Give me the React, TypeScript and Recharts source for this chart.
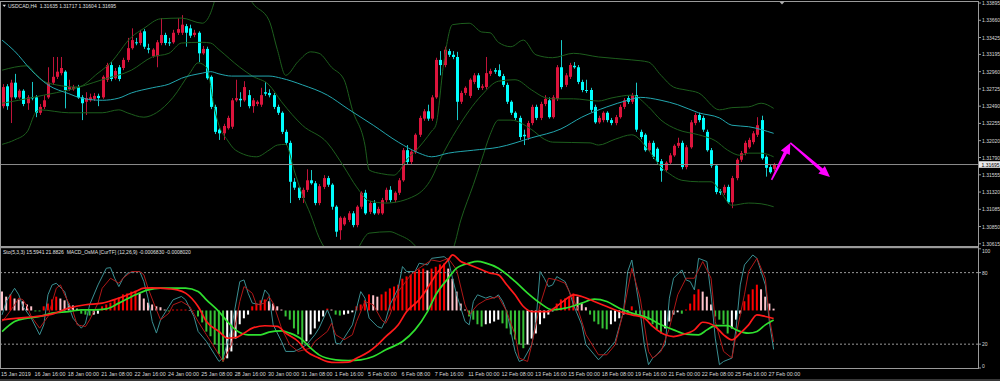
import React from 'react';
import { ComposedChart, Bar, Line, XAxis, YAxis, ReferenceLine, Cell } from 'recharts';

const symbolTitle = 'USDCAD,H4';
const lastOHLC = [1.31635, 1.31717, 1.31604, 1.31695];
const stochLegend = 'Sto(5,3,3) 15.5941 21.8826';
const osmaLegend = 'MACD_OsMA [CurTF] (12,26,9) -0.0006830 -0.0008020';

// [open, high, low, close] per H4 bar
const candles = [
  [1.3249,1.3279,1.3246,1.3275],[1.3276,1.3279,1.3244,1.3249],[1.3261,1.3285,1.3226,1.3281],[1.3281,1.3293,1.3259,1.3261],
  [1.3261,1.3272,1.3259,1.3270],[1.3270,1.3272,1.3249,1.3252],[1.3253,1.3264,1.3244,1.3261],[1.3261,1.3282,1.3257,1.3260],
  [1.3261,1.3264,1.3234,1.3240],[1.3240,1.3252,1.3237,1.3248],[1.3248,1.3264,1.3245,1.3257],[1.3261,1.3302,1.3259,1.3281],
  [1.3281,1.3316,1.3278,1.3289],[1.3289,1.3316,1.3286,1.3296],[1.3294,1.3316,1.3291,1.3301],[1.3296,1.3298,1.3246,1.3271],
  [1.3272,1.3285,1.3270,1.3275],[1.3272,1.3278,1.3270,1.3275],[1.3275,1.3278,1.3259,1.3261],[1.3261,1.3264,1.3230,1.3253],
  [1.3255,1.3268,1.3237,1.3260],[1.3257,1.3266,1.3255,1.3261],[1.3259,1.3267,1.3256,1.3263],[1.3263,1.3266,1.3249,1.3260],
  [1.3261,1.3291,1.3259,1.3289],[1.3285,1.3308,1.3282,1.3305],[1.3305,1.3309,1.3283,1.3286],[1.3287,1.3301,1.3285,1.3297],
  [1.3302,1.3305,1.3283,1.3286],[1.3301,1.3315,1.3298,1.3312],[1.3312,1.3342,1.3309,1.3328],[1.3328,1.3355,1.3326,1.3339],
  [1.3336,1.3342,1.3332,1.3335],[1.3335,1.3353,1.3332,1.3349],[1.3351,1.3354,1.3327,1.3330],[1.3328,1.3334,1.3321,1.3326],
  [1.3317,1.3328,1.3315,1.3326],[1.3317,1.3339,1.3302,1.3336],[1.3335,1.3369,1.3332,1.3346],[1.3346,1.3349,1.3332,1.3335],
  [1.3336,1.3342,1.3331,1.3335],[1.3336,1.3353,1.3334,1.3349],[1.3349,1.3369,1.3346,1.3354],[1.3349,1.3373,1.3346,1.3360],
  [1.3358,1.3361,1.3330,1.3349],[1.3355,1.3360,1.3342,1.3345],[1.3346,1.3353,1.3343,1.3349],[1.3349,1.3351,1.3309,1.3321],
  [1.3321,1.3331,1.3319,1.3327],[1.3327,1.3330,1.3285,1.3287],[1.3289,1.3291,1.3245,1.3248],[1.3248,1.3251,1.3211,1.3214],
  [1.3217,1.3219,1.3203,1.3212],[1.3212,1.3225,1.3203,1.3222],[1.3219,1.3236,1.3217,1.3233],[1.3221,1.3260,1.3218,1.3257],
  [1.3257,1.3285,1.3255,1.3260],[1.3259,1.3268,1.3248,1.3257],[1.3257,1.3283,1.3255,1.3275],[1.3264,1.3271,1.3246,1.3249],
  [1.3249,1.3260,1.3240,1.3257],[1.3252,1.3257,1.3249,1.3255],[1.3251,1.3274,1.3248,1.3264],[1.3268,1.3282,1.3263,1.3266],
  [1.3267,1.3272,1.3261,1.3264],[1.3264,1.3267,1.3245,1.3248],[1.3248,1.3251,1.3237,1.3240],[1.3240,1.3242,1.3211,1.3214],
  [1.3214,1.3217,1.3196,1.3199],[1.3199,1.3202,1.3117,1.3146],[1.3146,1.3151,1.3135,1.3138],[1.3138,1.3140,1.3121,1.3124],
  [1.3124,1.3138,1.3117,1.3135],[1.3135,1.3163,1.3132,1.3148],[1.3148,1.3162,1.3142,1.3144],[1.3144,1.3147,1.3114,1.3117],
  [1.3117,1.3143,1.3114,1.3140],[1.3139,1.3155,1.3136,1.3151],[1.3151,1.3154,1.3139,1.3142],[1.3142,1.3144,1.3108,1.3112],
  [1.3112,1.3114,1.3071,1.3078],[1.3080,1.3099,1.3067,1.3097],[1.3088,1.3099,1.3086,1.3097],[1.3094,1.3106,1.3091,1.3103],
  [1.3103,1.3106,1.3084,1.3087],[1.3087,1.3114,1.3084,1.3112],[1.3112,1.3133,1.3109,1.3131],[1.3131,1.3135,1.3101,1.3103],
  [1.3105,1.3120,1.3102,1.3117],[1.3117,1.3121,1.3101,1.3103],[1.3103,1.3112,1.3101,1.3109],[1.3103,1.3124,1.3101,1.3121],
  [1.3121,1.3138,1.3118,1.3135],[1.3135,1.3140,1.3118,1.3121],[1.3121,1.3133,1.3118,1.3131],[1.3131,1.3151,1.3128,1.3148],
  [1.3148,1.3192,1.3146,1.3189],[1.3189,1.3196,1.3170,1.3173],[1.3173,1.3189,1.3170,1.3187],[1.3187,1.3212,1.3184,1.3210],
  [1.3210,1.3236,1.3207,1.3233],[1.3232,1.3245,1.3229,1.3242],[1.3242,1.3251,1.3229,1.3232],[1.3232,1.3264,1.3229,1.3261],
  [1.3261,1.3315,1.3259,1.3312],[1.3312,1.3324,1.3291,1.3305],[1.3305,1.3330,1.3302,1.3326],[1.3324,1.3327,1.3316,1.3319],
  [1.3319,1.3324,1.3313,1.3316],[1.3316,1.3323,1.3230,1.3255],[1.3255,1.3270,1.3252,1.3267],[1.3267,1.3276,1.3264,1.3274],
  [1.3263,1.3287,1.3260,1.3285],[1.3282,1.3294,1.3279,1.3291],[1.3291,1.3294,1.3271,1.3274],[1.3274,1.3279,1.3271,1.3276],
  [1.3275,1.3316,1.3272,1.3294],[1.3293,1.3300,1.3290,1.3297],[1.3298,1.3301,1.3293,1.3296],[1.3298,1.3306,1.3289,1.3290],
  [1.3290,1.3293,1.3275,1.3278],[1.3278,1.3281,1.3252,1.3255],[1.3255,1.3257,1.3237,1.3240],[1.3240,1.3242,1.3230,1.3233],
  [1.3233,1.3236,1.3203,1.3207],[1.3210,1.3217,1.3196,1.3208],[1.3206,1.3229,1.3203,1.3226],[1.3226,1.3251,1.3223,1.3248],
  [1.3248,1.3251,1.3230,1.3233],[1.3233,1.3255,1.3230,1.3252],[1.3252,1.3264,1.3249,1.3259],[1.3257,1.3261,1.3232,1.3234],
  [1.3234,1.3264,1.3232,1.3261],[1.3259,1.3305,1.3256,1.3302],[1.3302,1.3339,1.3272,1.3275],[1.3278,1.3294,1.3275,1.3291],
  [1.3289,1.3308,1.3286,1.3305],[1.3304,1.3309,1.3300,1.3302],[1.3302,1.3305,1.3279,1.3282],[1.3282,1.3285,1.3268,1.3271],
  [1.3271,1.3285,1.3267,1.3270],[1.3271,1.3274,1.3241,1.3244],[1.3248,1.3251,1.3225,1.3227],[1.3227,1.3236,1.3225,1.3233],
  [1.3230,1.3242,1.3227,1.3240],[1.3240,1.3242,1.3227,1.3230],[1.3230,1.3233,1.3223,1.3226],[1.3226,1.3237,1.3223,1.3234],
  [1.3234,1.3251,1.3232,1.3248],[1.3248,1.3260,1.3245,1.3257],[1.3260,1.3263,1.3252,1.3255],[1.3255,1.3267,1.3252,1.3264],
  [1.3264,1.3281,1.3214,1.3217],[1.3214,1.3217,1.3204,1.3207],[1.3210,1.3212,1.3187,1.3189],[1.3189,1.3202,1.3187,1.3199],
  [1.3199,1.3202,1.3177,1.3180],[1.3191,1.3193,1.3170,1.3173],[1.3174,1.3177,1.3146,1.3161],[1.3162,1.3174,1.3159,1.3172],
  [1.3172,1.3185,1.3169,1.3182],[1.3182,1.3197,1.3180,1.3195],[1.3195,1.3206,1.3192,1.3199],[1.3199,1.3202,1.3163,1.3166],
  [1.3166,1.3196,1.3163,1.3193],[1.3193,1.3230,1.3191,1.3227],[1.3226,1.3240,1.3223,1.3237],[1.3237,1.3240,1.3227,1.3230],
  [1.3233,1.3236,1.3214,1.3217],[1.3214,1.3217,1.3187,1.3189],[1.3189,1.3192,1.3165,1.3168],[1.3168,1.3170,1.3129,1.3132],
  [1.3133,1.3136,1.3128,1.3131],[1.3131,1.3142,1.3128,1.3139],[1.3139,1.3142,1.3116,1.3118],[1.3118,1.3154,1.3110,1.3151],
  [1.3151,1.3178,1.3148,1.3176],[1.3176,1.3188,1.3173,1.3185],[1.3185,1.3202,1.3182,1.3199],[1.3193,1.3206,1.3191,1.3203],
  [1.3200,1.3215,1.3197,1.3212],[1.3210,1.3234,1.3207,1.3223],[1.3230,1.3236,1.3176,1.3178],[1.3180,1.3182,1.3153,1.3165],
  [1.3166,1.3169,1.3157,1.3159],[1.31635,1.31717,1.31604,1.31695],
];

const dateTickIndex = [0,8,16,24,32,40,48,56,64,72,80,88,96,104,112,120,128,136,144,152,160,168,176,184];
const dateTickLabel = ['15 Jan 2019','16 Jan 16:00','18 Jan 00:00','21 Jan 08:00','22 Jan 16:00','24 Jan 00:00',
  '25 Jan 08:00','28 Jan 16:00','30 Jan 00:00','31 Jan 08:00','1 Feb 16:00','5 Feb 00:00','6 Feb 08:00','7 Feb 16:00',
  '11 Feb 00:00','12 Feb 08:00','13 Feb 16:00','15 Feb 00:00','18 Feb 08:00','19 Feb 16:00','21 Feb 00:00',
  '22 Feb 08:00','25 Feb 16:00','27 Feb 00:00'];

const priceTicks = [1.33895,1.3366,1.33425,1.33195,1.3296,1.32725,1.3249,1.32255,1.3202,1.3179,1.31555,1.3132,1.31085,1.3085,1.30615];
const stochTicks = [0, 20, 80, 100];

// [bar index, value]
const maLine = [[0,1.3339],[3,1.3324],[7,1.3298],[11,1.3278],[16,1.3266],[19,1.3260],[24,1.3257],[28,1.3260],[31,1.3267],
  [36,1.3274],[40,1.3279],[43,1.3287],[48,1.3294],[50,1.3296],[52,1.3293],[55,1.3290],[64,1.3290],[67,1.3287],[72,1.3278],
  [78,1.3264],[83,1.3245],[89,1.3223],[95,1.3200],[100,1.3185],[103,1.3180],[107,1.3185],[113,1.3189],[119,1.3193],
  [127,1.3206],[134,1.3218],[139,1.3234],[145,1.3248],[150,1.3257],[153,1.3261],[158,1.3257],[162,1.3251],[167,1.3240],
  [172,1.3233],[175,1.3223],[179,1.3221],[185,1.3212]];
const upperBand = [[0,1.3298],[6,1.3304],[8,1.3293],[10,1.3283],[13,1.3278],[18,1.3275],[23,1.3294],[26,1.3308],[31,1.3343],
  [34,1.3355],[38,1.3368],[43,1.3369],[48,1.3362],[50,1.3376],[51,1.3394],[52,1.3421],[56,1.3428],[58,1.3410],[60,1.3390],
  [64,1.3366],[66,1.3326],[68,1.3291],[71,1.3310],[74,1.3323],[76,1.3321],[79,1.3302],[82,1.3285],[84,1.3244],[87,1.3196],
  [88,1.3162],[91,1.3157],[94,1.3155],[95,1.3159],[97,1.3176],[99,1.3187],[103,1.3215],[104,1.3223],[106,1.3312],
  [108,1.3360],[112,1.3362],[115,1.3350],[117,1.3349],[119,1.3336],[122,1.3330],[125,1.3339],[128,1.3319],[132,1.3315],
  [137,1.3321],[143,1.3316],[151,1.3312],[155,1.3309],[158,1.3291],[161,1.3275],[164,1.3271],[167,1.3267],[172,1.3244],
  [175,1.3247],[179,1.3248],[182,1.3253],[185,1.3246]];
const middleBand = [[0,1.3253],[4,1.3257],[10,1.3264],[16,1.3271],[24,1.3285],[31,1.3298],[36,1.3316],[40,1.3321],
  [43,1.3335],[48,1.3336],[50,1.3335],[52,1.3326],[57,1.3302],[60,1.3290],[64,1.3278],[67,1.3255],[72,1.3223],[78,1.3199],
  [82,1.3166],[85,1.3139],[88,1.3120],[92,1.3117],[99,1.3127],[103,1.3151],[105,1.3176],[109,1.3217],[115,1.3264],
  [119,1.3283],[123,1.3285],[127,1.3271],[130,1.3261],[132,1.3259],[137,1.3259],[143,1.3256],[146,1.3260],[151,1.3264],
  [155,1.3248],[158,1.3230],[162,1.3217],[167,1.3210],[171,1.3202],[174,1.3189],[177,1.3182],[179,1.3185],[182,1.3185],
  [185,1.3180]];
const lowerBand = [[0,1.3197],[3,1.3203],[6,1.3214],[8,1.3240],[9,1.3244],[16,1.3240],[24,1.3240],[28,1.3244],[30,1.3240],
  [34,1.3234],[37,1.3240],[41,1.3261],[45,1.3294],[47,1.3308],[49,1.3302],[51,1.3244],[52,1.3223],[54,1.3203],[56,1.3189],
  [61,1.3180],[64,1.3189],[66,1.3196],[68,1.3197],[70,1.3162],[72,1.3128],[74,1.3101],[76,1.3070],[79,1.3045],[82,1.3037],
  [85,1.3053],[88,1.3076],[93,1.3078],[95,1.3074],[99,1.3059],[101,1.3042],[105,1.3037],[108,1.3053],[110,1.3094],
  [113,1.3142],[115,1.3176],[117,1.3210],[119,1.3230],[122,1.3230],[127,1.3217],[130,1.3204],[132,1.3200],[141,1.3199],
  [143,1.3196],[147,1.3204],[151,1.3210],[155,1.3189],[158,1.3166],[160,1.3157],[163,1.3148],[167,1.3146],[170,1.3146],
  [172,1.3135],[175,1.3114],[179,1.3117],[182,1.3116],[185,1.3112]];

const stochMain = [[0,44.6],[1,55.8],[3,66.9],[4,61.4],[5,51.6],[7,41.8],[9,27.9],[10,36.2],[11,61.4],[12,69.7],[13,71.1],
  [15,64.1],[16,51.6],[17,41.8],[19,33.4],[20,37.6],[21,53.0],[23,69.7],[25,83.7],[26,84.2],[27,75.3],[28,68.3],[29,75.3],
  [30,79.5],[32,80.9],[33,80.9],[34,72.5],[35,58.6],[36,39.0],[37,29.3],[38,40.4],[40,51.6],[41,57.2],[43,60.0],[44,57.2],
  [46,43.2],[47,30.7],[49,22.3],[51,11.1],[52,5.5],[53,8.3],[54,20.9],[55,33.4],[57,72.5],[58,73.9],[59,62.7],[60,54.4],
  [62,53.0],[63,65.5],[64,61.4],[65,36.2],[67,22.3],[68,13.9],[70,13.9],[71,15.3],[73,19.5],[75,27.9],[76,33.4],[78,48.8],
  [79,40.4],[80,20.9],[81,20.1],[82,25.1],[84,36.2],[85,50.2],[86,64.1],[87,58.6],[88,41.8],[90,34.8],[91,33.4],[92,40.4],
  [93,53.0],[95,66.9],[96,85.1],[97,80.9],[99,80.9],[100,87.9],[102,86.5],[103,92.0],[106,93.4],[107,90.6],[108,75.3],
  [109,61.4],[111,39.0],[112,36.2],[113,55.8],[114,61.4],[116,58.6],[117,60.0],[118,58.6],[119,61.4],[120,56.0],[121,47.4],
  [122,30.7],[123,13.9],[124,5.5],[125,6.9],[127,19.5],[128,39.0],[129,80.9],[130,75.3],[131,68.3],[132,69.7],[133,76.7],
  [135,72.5],[136,64.1],[137,53.0],[139,36.2],[140,19.5],[142,11.1],[143,6.9],[145,13.9],[146,18.1],[147,22.3],[149,47.4],
  [150,80.9],[151,90.6],[153,47.4],[154,19.5],[155,2.8],[156,8.3],[157,11.1],[159,19.5],[160,58.6],[161,75.3],[163,82.3],
  [164,73.9],[165,72.5],[166,65.5],[167,92.0],[169,89.3],[170,61.4],[171,25.1],[172,2.8],[173,5.5],[175,8.3],[176,33.4],
  [177,69.7],[178,86.5],[180,94.8],[181,92.0],[183,69.7],[184,38.0],[185,15.5941]];
const stochSignal = [[0,39.0],[1,43.2],[3,53.0],[4,58.6],[5,57.2],[6,51.6],[7,43.2],[9,33.4],[11,43.2],[13,66.9],[14,69.7],
  [15,61.4],[17,47.4],[18,36.2],[20,34.8],[21,40.4],[23,54.4],[24,66.9],[26,75.3],[28,71.1],[29,75.3],[31,80.9],[33,80.9],
  [34,78.1],[35,66.9],[37,48.8],[38,40.4],[40,46.0],[41,53.0],[43,55.8],[45,51.6],[47,39.0],[49,27.9],[52,11.1],[53,5.5],
  [55,19.5],[57,55.8],[58,68.3],[60,62.7],[61,53.0],[63,54.4],[64,60.0],[65,54.4],[67,33.4],[69,19.5],[71,13.9],[74,16.7],
  [75,22.3],[78,30.7],[79,37.6],[80,27.9],[82,23.7],[84,27.9],[85,39.0],[87,55.8],[89,53.0],[91,40.4],[92,37.6],[93,44.6],
  [95,64.1],[98,78.1],[100,83.7],[103,90.6],[105,89.3],[107,92.0],[109,82.3],[111,53.0],[112,44.6],[114,53.0],[116,57.2],
  [119,60.0],[121,47.4],[123,27.9],[124,8.3],[126,5.5],[127,19.5],[129,53.0],[131,75.3],[133,73.9],[135,71.1],[136,64.1],
  [138,50.2],[140,27.9],[143,11.1],[145,11.1],[147,19.5],[149,47.4],[151,83.7],[153,58.6],[155,13.9],[156,8.3],[158,13.9],
  [160,33.4],[162,61.4],[164,75.3],[166,75.3],[168,89.3],[170,75.3],[171,39.0],[173,13.9],[175,8.3],[176,27.9],[178,61.4],
  [179,80.9],[181,92.0],[183,75.3],[184,41.8],[185,21.8826]];
const macdMain = [[0,-0.00079],[4,-0.00065],[8,-0.00051],[12,-0.00031],[16,0.00020],[20,0.00049],[24,0.00063],[28,0.00106],
  [32,0.00162],[34,0.00191],[36,0.00193],[40,0.00185],[42,0.00176],[44,0.00148],[47,0.00034],[49,-0.00094],[52,-0.00179],
  [54,-0.00235],[56,-0.00230],[58,-0.00193],[60,-0.00150],[63,-0.00130],[66,-0.00136],[68,-0.00193],[71,-0.00264],
  [73,-0.00349],[76,-0.00406],[78,-0.00435],[80,-0.00443],[83,-0.00440],[85,-0.00406],[88,-0.00349],[90,-0.00292],
  [92,-0.00222],[95,-0.00122],[97,-0.00009],[100,0.00091],[102,0.00191],[104,0.00304],[107,0.00432],[108,0.00475],
  [110,0.00418],[112,0.00390],[115,0.00347],[117,0.00319],[119,0.00304],[121,0.00219],[123,0.00134],[125,0.00034],
  [127,-0.00009],[131,-0.00009],[132,0.00010],[135,0.00091],[137,0.00134],[139,0.00119],[142,0.00077],[145,0.00034],
  [148,-0.00009],[151,-0.00037],[154,-0.00065],[156,-0.00136],[159,-0.00207],[161,-0.00222],[163,-0.00207],[166,-0.00165],
  [168,-0.00100],[171,-0.00136],[173,-0.00207],[175,-0.00250],[177,-0.00193],[179,-0.00122],[181,-0.00037],[183,-0.00051],
  [185,-0.000683]];
const macdSignal = [[0,-0.00179],[3,-0.00094],[6,-0.00065],[9,-0.00051],[12,-0.00022],[16,-0.00009],[19,0.00006],[22,0.00006],
  [25,0.00014],[28,0.00063],[32,0.00134],[35,0.00176],[38,0.00191],[41,0.00191],[44,0.00191],[47,0.00162],[49,0.00091],
  [52,-0.00009],[54,-0.00094],[56,-0.00165],[59,-0.00207],[62,-0.00207],[64,-0.00184],[67,-0.00173],[69,-0.00193],
  [72,-0.00250],[74,-0.00321],[76,-0.00378],[80,-0.00420],[83,-0.00426],[86,-0.00420],[89,-0.00392],[92,-0.00335],
  [96,-0.00264],[99,-0.00165],[102,-0.00009],[104,0.00134],[107,0.00276],[109,0.00361],[112,0.00404],[114,0.00418],
  [116,0.00404],[119,0.00361],[123,0.00248],[126,0.00148],[129,0.00063],[132,0.00006],[135,0.00020],[139,0.00063],
  [142,0.00097],[145,0.00077],[148,0.00020],[151,-0.00022],[155,-0.00065],[158,-0.00122],[161,-0.00165],[164,-0.00201],
  [167,-0.00207],[169,-0.00165],[171,-0.00128],[174,-0.00128],[176,-0.00165],[179,-0.00193],[181,-0.00179],[183,-0.00122],
  [185,-0.000802]];

const osmaBefore = 0.00045;
const osma = [0.00041,0.00030,0.00035,0.00026,0.00024,0.00020,0.00013,0.00009,-0.00002,-0.00002,0.00009,0.00015,0.00024,0.00030,
  0.00026,0.00022,0.00015,0.00011,0.00004,-0.00007,-0.00009,-0.00011,-0.00009,-0.00007,0.00009,0.00013,0.00017,0.00024,0.00028,
  0.00035,0.00037,0.00041,0.00043,0.00037,0.00026,0.00017,0.00013,0.00009,0.00007,0.00002,-0.00002,0.00002,0.00002,0.00002,
  0.00002,0.00001,0.00001,-0.00013,-0.00026,-0.00046,-0.00056,-0.00074,-0.00095,-0.00111,-0.00104,-0.00089,-0.00061,-0.00030,
  -0.00017,-0.00009,0.00009,0.00015,0.00022,0.00024,0.00020,0.00015,0.00009,0.00002,-0.00013,-0.00020,-0.00039,-0.00052,
  -0.00074,-0.00067,-0.00052,-0.00039,-0.00024,-0.00013,0.00004,0.00002,-0.00009,-0.00011,-0.00009,-0.00007,-0.00004,0.00009,
  0.00013,0.00022,0.00035,0.00033,0.00030,0.00035,0.00041,0.00048,0.00052,0.00056,0.00069,0.00074,0.00078,0.00085,0.00089,
  0.00091,0.00087,0.00091,0.00095,0.00100,0.00102,0.00091,0.00069,0.00041,0.00015,0.00002,-0.00013,-0.00020,-0.00030,-0.00035,
  -0.00030,-0.00028,-0.00024,-0.00020,-0.00028,-0.00039,-0.00052,-0.00063,-0.00074,-0.00082,-0.00074,-0.00061,-0.00050,
  -0.00030,-0.00017,-0.00009,-0.00002,0.00015,0.00024,0.00026,0.00030,0.00037,0.00030,0.00015,0.00007,-0.00009,-0.00024,
  -0.00030,-0.00039,-0.00041,-0.00030,-0.00024,-0.00017,-0.00009,-0.00004,0.00009,-0.00009,-0.00013,-0.00017,-0.00020,
  -0.00030,-0.00041,-0.00050,-0.00039,-0.00024,-0.00009,-0.00004,-0.00007,0.00002,0.00015,0.00035,0.00046,0.00041,0.00030,
  0.00013,-0.00013,-0.00020,-0.00030,-0.00050,-0.00039,-0.00020,-0.00007,0.00020,0.00035,0.00046,0.00056,0.00046,0.00030,
  0.00015,0.00004];

// hand-drawn arrows on the chart: [[barFrom, priceFrom], [barTo, priceTo]]
const arrowObjects = [
  [[184.5, 1.31485], [189, 1.31989]],
  [[189, 1.31989], [198.5, 1.31526]],
];

const FONT = '"Liberation Sans", Arial, sans-serif';
const X_DOMAIN = [-0.5, 234];
const BULL = '#dc143c', BEAR = '#00ffff', WICK_UP = '#c0143a', WICK_DN = '#19c8c8';

const put = (rows: any[], pts: number[][], key: string) => pts.forEach(([i, v]) => { if (rows[i]) rows[i][key] = v; });

const mainData: any[] = candles.map((c, i) => ({ i, o: c[0], h: c[1], l: c[2], c: c[3], range: [c[2], c[1]] }));
put(mainData, maLine, 'ma');
put(mainData, upperBand, 'ub');
put(mainData, middleBand, 'mb');
put(mainData, lowerBand, 'lb');

const subData: any[] = osma.map((v, i) => ({ i, osma: v }));
put(subData, stochMain, 'k');
put(subData, stochSignal, 'd');
put(subData, macdMain, 'macd');
put(subData, macdSignal, 'sig');

const histColor = (v: number, prev: number) =>
  v >= 0 ? (v >= prev ? '#ff0000' : '#ffc4cc') : (v <= prev ? '#36c236' : '#ffffff');

const CandleShape = (props: any) => {
  const { x, y, width, height, payload } = props;
  if (!payload || !isFinite(y) || !isFinite(height)) return null;
  const top = height >= 0 ? y : y + height;
  const hh = Math.abs(height);
  const { o, h, l, c } = payload;
  const k = hh / (h - l);
  const cx = Math.round(x + width / 2);
  const yo = top + (h - o) * k;
  const yc = top + (h - c) * k;
  const up = c >= o;
  const bt = Math.min(yo, yc);
  const bh = Math.max(1, Math.abs(yo - yc));
  return (
    <g>
      <line x1={cx + 0.5} x2={cx + 0.5} y1={top} y2={top + hh} stroke={up ? WICK_UP : WICK_DN} strokeWidth={1} />
      <rect x={cx - 1} y={bt} width={3} height={bh} fill={up ? BULL : BEAR} />
    </g>
  );
};

const ArrowShape = (props: any) => {
  const { x1, y1, x2, y2 } = props;
  if (![x1, y1, x2, y2].every((v) => isFinite(v))) return null;
  const dx = x2 - x1, dy = y2 - y1;
  const len = Math.hypot(dx, dy) || 1;
  const ux = dx / len, uy = dy / len, nx = -uy, ny = ux;
  const hl = 11, hw = 5, w0 = 0.8, w1 = 1.8;
  const bx = x2 - ux * hl, by = y2 - uy * hl;
  const pts = [
    [x1 + nx * w0, y1 + ny * w0], [bx + nx * w1, by + ny * w1], [bx + nx * hw, by + ny * hw], [x2, y2],
    [bx - nx * hw, by - ny * hw], [bx - nx * w1, by - ny * w1], [x1 - nx * w0, y1 - ny * w0],
  ].map((p) => p.join(',')).join(' ');
  return <polygon points={pts} fill="#ff00ff" />;
};

const PriceTick = (props: any) => {
  const { y, payload } = props;
  const v = payload.value;
  const isLast = Math.abs(v - lastOHLC[3]) < 1e-7;
  return (
    <g>
      {isLast ? (
        <g>
          <rect x={979} y={y - 3.3} width={21} height={6.6} fill="#e8e8e8" />
          <text x={981.5} y={y} dominantBaseline="central" fontSize={5} fontFamily={FONT} fill="#000">{v.toFixed(5)}</text>
        </g>
      ) : (
        <g>
          <line x1={978} x2={981} y1={y} y2={y} stroke="#9a9a9a" />
          <text x={982} y={y} dominantBaseline="central" fontSize={5} fontFamily={FONT} fill="#d8d8d8">{v.toFixed(5)}</text>
        </g>
      )}
    </g>
  );
};

const StochTick = (props: any) => {
  const { y, payload } = props;
  const v = payload.value;
  const dy = v === 100 ? 2.3 : v === 0 ? -2.5 : 0;
  return (
    <g>
      <line x1={978} x2={981} y1={y} y2={y} stroke="#9a9a9a" />
      <text x={982} y={y + dy} dominantBaseline="central" fontSize={5} fontFamily={FONT} fill="#d8d8d8">{String(v)}</text>
    </g>
  );
};

const DateTick = (props: any) => {
  const { x, payload } = props;
  const idx = dateTickIndex.indexOf(payload.value);
  return (
    <text x={x - 1} y={133.5} dominantBaseline="central" fontSize={5.4} fontFamily={FONT} fill="#d8d8d8">
      {idx >= 0 ? dateTickLabel[idx] : ''}
    </text>
  );
};

export default function App() {
  return (
    <div style={{ position: 'absolute', left: 0, top: 0, width: 1000, height: 381, background: '#000', overflow: 'hidden' }}>
      <div style={{ position: 'absolute', left: 0, top: 0 }}>
        <ComposedChart width={1000} height={248} data={mainData} margin={{ top: 2, right: 0, bottom: 2, left: 0 }}>
          <XAxis type="number" dataKey="i" domain={X_DOMAIN} hide allowDataOverflow />
          <YAxis orientation="right" width={22} domain={[1.30585, 1.33909]} allowDataOverflow
            ticks={[...priceTicks, lastOHLC[3]]} interval={0} tick={PriceTick} axisLine={false} tickLine={false} />
          <ReferenceLine y={lastOHLC[3]} stroke="#8c8c8c" strokeWidth={1} />
          <Line dataKey="ub" type="monotone" stroke="#1d5e1d" strokeWidth={1} dot={false} activeDot={false} connectNulls isAnimationActive={false} />
          <Line dataKey="mb" type="monotone" stroke="#1d5e1d" strokeWidth={1} dot={false} activeDot={false} connectNulls isAnimationActive={false} />
          <Line dataKey="lb" type="monotone" stroke="#1d5e1d" strokeWidth={1} dot={false} activeDot={false} connectNulls isAnimationActive={false} />
          <Line dataKey="ma" type="monotone" stroke="#22a6ae" strokeWidth={1} dot={false} activeDot={false} connectNulls isAnimationActive={false} />
          <Bar dataKey="range" barSize={3} shape={CandleShape} isAnimationActive={false} />
          {arrowObjects.map((a, k) => (
            <ReferenceLine key={k} segment={[{ x: a[0][0], y: a[0][1] }, { x: a[1][0], y: a[1][1] }]} ifOverflow="visible" shape={ArrowShape} />
          ))}
        </ComposedChart>
      </div>
      <div style={{ position: 'absolute', left: 0, top: 240 }}>
        <ComposedChart width={1000} height={141} data={subData} margin={{ top: 8.8, right: 0, bottom: 0, left: 0 }}>
          <XAxis type="number" dataKey="i" domain={X_DOMAIN} allowDataOverflow ticks={dateTickIndex} interval={0}
            height={13} tick={DateTick} axisLine={false} tickLine={false} />
          <YAxis yAxisId="sto" orientation="right" width={22} domain={[0, 100]} allowDataOverflow ticks={stochTicks}
            interval={0} tick={StochTick} axisLine={false} tickLine={false} />
          <YAxis yAxisId="osma" hide domain={[-0.00125, 0.00134]} allowDataOverflow />
          <YAxis yAxisId="macd" hide domain={[-0.0049, 0.00526]} allowDataOverflow />
          <ReferenceLine yAxisId="sto" y={80} stroke="#9a9a9a" strokeDasharray="2 2" />
          <ReferenceLine yAxisId="sto" y={20} stroke="#9a9a9a" strokeDasharray="2 2" />
          <Bar yAxisId="osma" dataKey="osma" barSize={2} isAnimationActive={false}>
            {osma.map((v, i) => (
              <Cell key={i} fill={histColor(v, i === 0 ? osmaBefore : osma[i - 1])} />
            ))}
          </Bar>
          <Line yAxisId="sto" dataKey="k" type="linear" stroke="#3a8f92" strokeWidth={1} dot={false} activeDot={false} connectNulls isAnimationActive={false} />
          <Line yAxisId="sto" dataKey="d" type="linear" stroke="#b01818" strokeWidth={1} dot={false} activeDot={false} connectNulls isAnimationActive={false} />
          <Line yAxisId="macd" dataKey="sig" type="monotone" stroke="#2fe02f" strokeWidth={1.7} dot={false} activeDot={false} connectNulls isAnimationActive={false} />
          <Line yAxisId="macd" dataKey="macd" type="monotone" stroke="#ff1a1a" strokeWidth={1.7} dot={false} activeDot={false} connectNulls isAnimationActive={false} />
        </ComposedChart>
      </div>
      <svg width={1000} height={381} style={{ position: 'absolute', left: 0, top: 0, pointerEvents: 'none' }}>
        <line x1={0} x2={978} y1={1.5} y2={1.5} stroke="#9a9a9a" />
        <line x1={0.5} x2={0.5} y1={1} y2={369} stroke="#9a9a9a" />
        <line x1={978.5} x2={978.5} y1={1} y2={369} stroke="#9a9a9a" />
        <rect x={0} y={246} width={978} height={2.2} fill="#9a9a9a" />
        <line x1={0} x2={978} y1={368.5} y2={368.5} stroke="#9a9a9a" />
        <line x1={0} x2={1000} y1={380} y2={380} stroke="#6e6e6e" />
        <polygon points="779.5,1.8 784.5,1.8 782,4.6" fill="#b0b0b0" />
        <polygon points="2.5,4.8 6,4.8 4.25,7" fill="#e0e0e0" />
        <text x={8} y={6} dominantBaseline="central" fontSize={5} fontFamily={FONT} fill="#e0e0e0" xmlSpace="preserve">
          {`${symbolTitle}  ${lastOHLC.map((v) => v.toFixed(5)).join(' ')}`}
        </text>
        <text x={3} y={252} dominantBaseline="central" fontSize={5} fontFamily={FONT} fill="#e0e0e0" xmlSpace="preserve">
          {`${stochLegend}  ${osmaLegend}`}
        </text>
      </svg>
    </div>
  );
}
